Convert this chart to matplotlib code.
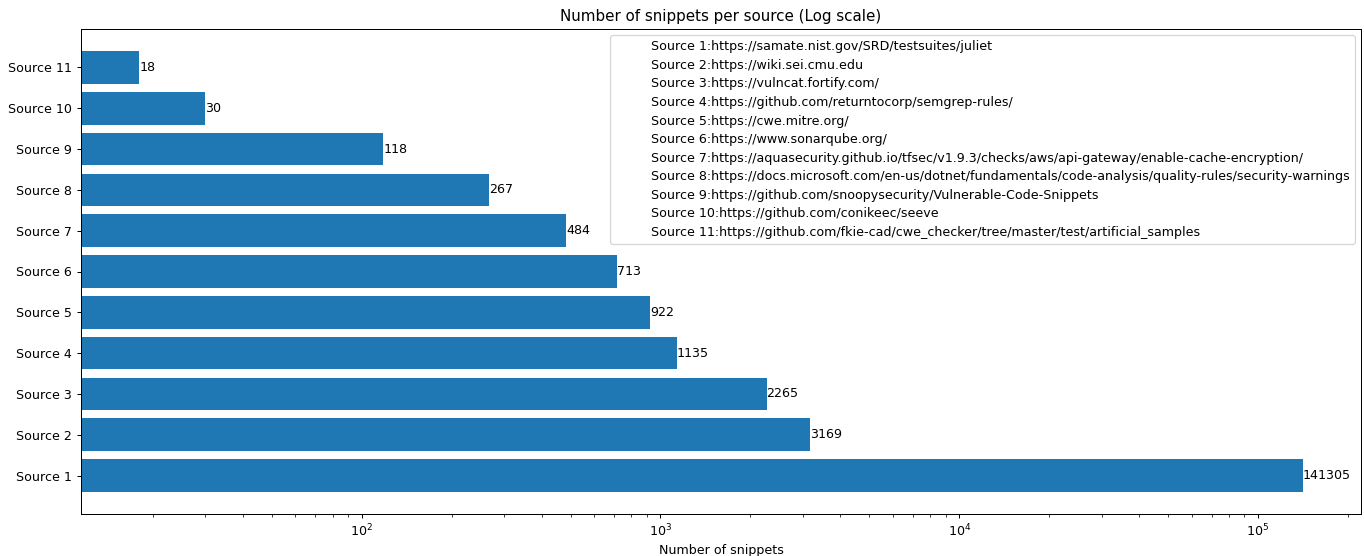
import matplotlib
matplotlib.use("Agg")
import matplotlib.pyplot as plt
import matplotlib.patches as mpatches

sources = [f"Source {i}" for i in range(1, 12)]
counts = [141305, 3169, 2265, 1135, 922, 713, 484, 267, 118, 30, 18]
urls = [
    "https://samate.nist.gov/SRD/testsuites/juliet",
    "https://wiki.sei.cmu.edu",
    "https://vulncat.fortify.com/",
    "https://github.com/returntocorp/semgrep-rules/",
    "https://cwe.mitre.org/",
    "https://www.sonarqube.org/",
    "https://aquasecurity.github.io/tfsec/v1.9.3/checks/aws/api-gateway/enable-cache-encryption/",
    "https://docs.microsoft.com/en-us/dotnet/fundamentals/code-analysis/quality-rules/security-warnings",
    "https://github.com/snoopysecurity/Vulnerable-Code-Snippets",
    "https://github.com/conikeec/seeve",
    "https://github.com/fkie-cad/cwe_checker/tree/master/test/artificial_samples",
]

DPI = 1364 / 15.0
fig = plt.figure(figsize=(15.0, 556 / DPI), dpi=DPI)
ax = fig.add_axes([81/1364, 1 - 514/556, (1361-81)/1364, (514-29)/556])
bars = ax.barh(sources, counts, color="#1f77b4")
ax.set_xscale("log")
for b, v in zip(bars, counts):
    ax.text(b.get_width(), b.get_y() + b.get_height()/2, str(v), va="center", ha="left", fontsize=10)
ax.set_title("Number of snippets per source (Log scale)")
ax.set_xlabel("Number of snippets")
handles = [mpatches.Patch(color="none", label=f"{s}:{u}") for s, u in zip(sources, urls)]
ax.legend(handles=handles, loc="upper right", labelspacing=0.44)
fig.savefig("out.png", dpi=DPI)
